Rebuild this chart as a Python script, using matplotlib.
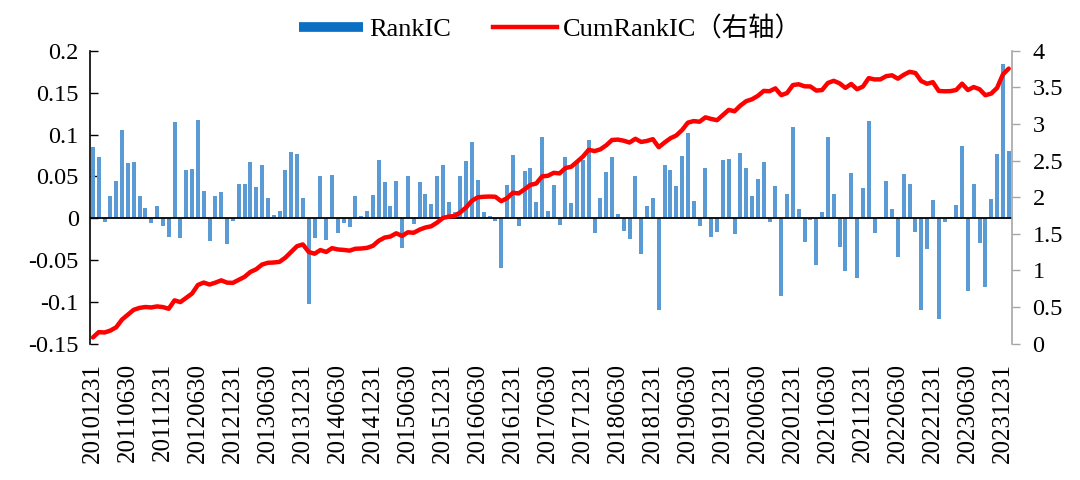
import numpy as np
import pandas as pd
from matplotlib import pyplot as plt
from matplotlib.lines import Line2D
from matplotlib.ticker import FuncFormatter

plt.rcParams['font.family'] = ['Liberation Serif', 'Noto Sans CJK SC']

# monthly RankIC, 201012 .. 202401
rank_ic = [
    0.085, 0.073, -0.005, 0.026, 0.045, 0.106, 0.066, 0.067, 0.026, 0.012,
    -0.006, 0.014, -0.009, -0.023, 0.115, -0.024, 0.058, 0.059, 0.117, 0.033,
    -0.027, 0.026, 0.031, -0.031, -0.003, 0.041, 0.041, 0.067, 0.037, 0.064,
    0.024, 0.004, 0.009, 0.058, 0.079, 0.077, 0.024, -0.103, -0.024, 0.050,
    -0.026, 0.052, -0.018, -0.006, -0.010, 0.026, 0.003, 0.009, 0.028, 0.069,
    0.043, 0.015, 0.044, -0.036, 0.050, -0.007, 0.043, 0.029, 0.017, 0.050,
    0.063, 0.019, 0.008, 0.051, 0.068, 0.091, 0.046, 0.007, 0.003, -0.003,
    -0.060, 0.040, 0.075, -0.009, 0.056, 0.060, 0.019, 0.097, 0.009, 0.040,
    -0.008, 0.073, 0.018, 0.068, 0.070, 0.094, -0.018, 0.024, 0.055, 0.073,
    0.005, -0.015, -0.025, 0.051, -0.043, 0.014, 0.024, -0.110, 0.064, 0.058,
    0.038, 0.074, 0.102, 0.021, -0.009, 0.060, -0.022, -0.017, 0.070, 0.071,
    -0.019, 0.078, 0.060, 0.026, 0.047, 0.067, -0.004, 0.039, -0.093, 0.029,
    0.109, 0.011, -0.028, -0.002, -0.056, 0.007, 0.097, 0.029, -0.034, -0.063,
    0.054, -0.072, 0.036, 0.116, -0.018, 0.001, 0.044, 0.011, -0.046, 0.053,
    0.041, -0.016, -0.110, -0.037, 0.022, -0.120, -0.005, 0.002, 0.016, 0.086,
    -0.087, 0.041, -0.030, -0.082, 0.023, 0.077, 0.184, 0.080,
]
dates = pd.date_range('2010-12-31', periods=len(rank_ic), freq='ME').strftime('%Y%m%d').tolist()
cum_rank_ic = np.cumsum(rank_ic)

left_ticks = [-0.15, -0.1, -0.05, 0, 0.05, 0.1, 0.15, 0.2]
right_ticks = [0, 0.5, 1, 1.5, 2, 2.5, 3, 3.5, 4]

bar_color = '#5B9BD5'
line_color = '#FF0000'
fs = 17.5


def main():
    fig = plt.figure(figsize=(10.8, 4.8), dpi=100)
    ax = fig.add_axes([0.0833, 0.284, 0.8534, 0.61])
    x = np.arange(len(rank_ic))

    ax.bar(x, rank_ic, width=0.7, color=bar_color, zorder=2)
    ax.axhline(0, color='black', lw=1.3, zorder=3)
    ax.set_xlim(-0.5, len(rank_ic) - 0.5)
    ax.set_ylim(-0.15, 0.2)
    ax.set_yticks(left_ticks)
    ax.yaxis.set_major_formatter(FuncFormatter(lambda v, p: '%g' % v))
    ax.tick_params(axis='y', direction='in', length=6, width=1, labelsize=fs, pad=8)
    ax.set_xticks(x[::6])
    ax.set_xticklabels(dates[::6], rotation=90, fontsize=18)
    ax.tick_params(axis='x', length=0, pad=14)
    for s in ['top', 'right', 'bottom']:
        ax.spines[s].set_visible(False)
    ax.spines['left'].set_linewidth(1.2)

    ax2 = ax.twinx()
    ax2.plot(x, cum_rank_ic, color=line_color, lw=3.2, solid_capstyle='round')
    ax2.set_ylim(0, 4)
    ax2.set_yticks(right_ticks)
    ax2.yaxis.set_major_formatter(FuncFormatter(lambda v, p: '%g' % v))
    ax2.tick_params(axis='y', direction='out', length=6, width=1, color='#A6A6A6',
                    labelsize=fs, pad=9)
    for s in ['top', 'left', 'bottom']:
        ax2.spines[s].set_visible(False)
    ax2.spines['right'].set_color('#A6A6A6')
    ax2.spines['right'].set_linewidth(1.2)

    handles = [Line2D([], [], color='#0B6FC4', lw=7, solid_capstyle='butt'),
               Line2D([], [], color=line_color, lw=3.2)]
    fig.legend(handles, ['RankIC', 'CumRankIC（右轴）'], loc='center',
               bbox_to_anchor=(0.51, 0.94), ncol=2, frameon=False, fontsize=19,
               handlelength=2.4, columnspacing=1.6, handletextpad=0.25)

    fig.savefig('out.png', dpi=100)


if __name__ == "__main__":
    main()
